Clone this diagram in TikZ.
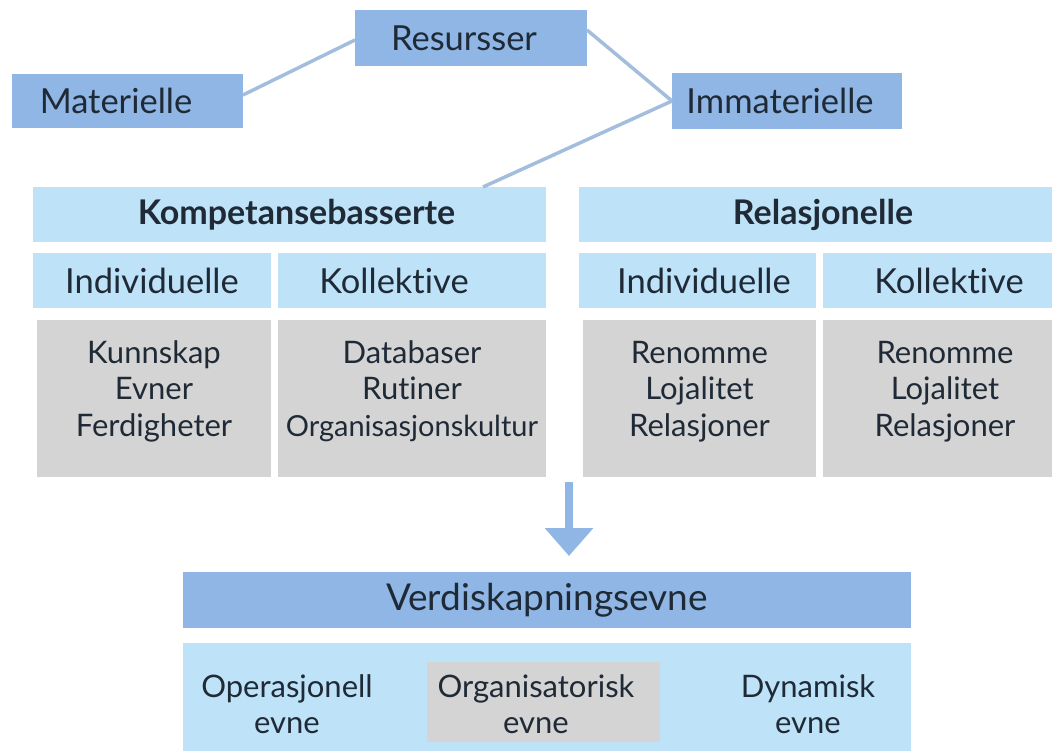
\documentclass[tikz,border=0pt]{standalone}
\usepackage{fontspec}
\setmainfont{Lato}[Ligatures={NoCommon}]
\usetikzlibrary{arrows.meta}
\definecolor{midblue}{HTML}{8FB6E4}
\definecolor{paleblue}{HTML}{BEE2F7}
\definecolor{cellgray}{HTML}{D4D4D4}
\definecolor{ink}{HTML}{1F2A36}
\definecolor{linkblue}{HTML}{A3BDDC}
\begin{document}
\begin{tikzpicture}[x=1pt,y=-1pt,
  cell/.style={rectangle, inner sep=0pt, outer sep=0pt, text=ink, align=center},
  topbox/.style={cell, fill=midblue, font=\fontsize{34.5}{40}\selectfont},
  head/.style={cell, fill=paleblue, font=\fontsize{34}{40}\selectfont\bfseries},
  sub/.style={cell, fill=paleblue, font=\fontsize{34.5}{40}\selectfont},
  content/.style={cell, fill=cellgray, font=\fontsize{31}{36.5}\selectfont},
  evnetext/.style={cell, font=\fontsize{31}{36}\selectfont},
  link/.style={draw=linkblue, line width=3.5pt}]
\useasboundingbox (0,0) rectangle (1052,751);

% resource type boxes
\node[topbox, minimum width=232pt, minimum height=56pt] (res) at (471,38) {Resursser\hspace*{14pt}};
\node[topbox, minimum width=231pt, minimum height=54pt] (mat) at (127.5,101) {Materielle\hspace*{23pt}};
\node[topbox, minimum width=230pt, minimum height=56pt] (imm) at (787,101) {Immaterielle\hspace*{14pt}};

% competence based resources
\node[head, minimum width=513pt, minimum height=55pt] (komp) at (289.5,214.5) {\hspace*{14pt}Kompetansebasserte};
\node[sub, minimum width=238pt, minimum height=55pt] (ind1) at (152,280.5) {Individuelle};
\node[sub, minimum width=268pt, minimum height=55pt] (kol1) at (412,280.5) {Kollektive\hspace*{36pt}};
\node[content, minimum width=234pt, minimum height=157pt] (g1) at (154,398.5)
  {Kunnskap\\Evner\\Ferdigheter\\[-16.5pt]\mbox{}};
\node[content, minimum width=268pt, minimum height=157pt] (g2) at (412,398.5)
  {Databaser\\Rutiner\\{\fontsize{29}{36.5}\selectfont Organisasjonskultur}\\[-16.5pt]\mbox{}};

% relational resources
\node[head, minimum width=473pt, minimum height=55pt] (rel) at (815.5,214.5) {\hspace*{15pt}Relasjonelle};
\node[sub, minimum width=237pt, minimum height=55pt] (ind2) at (697.5,280.5) {\hspace*{13pt}Individuelle};
\node[sub, minimum width=229pt, minimum height=55pt] (kol2) at (937.5,280.5) {\hspace*{23pt}Kollektive};
\node[content, minimum width=233pt, minimum height=157pt] (g3) at (699.5,398.5)
  {Renomme\\Lojalitet\\Relasjoner\\[-16.5pt]\mbox{}};
\node[content, minimum width=229pt, minimum height=157pt] (g4) at (937.5,398.5)
  {\hspace*{15pt}Renomme\\\hspace*{15pt}Lojalitet\\\hspace*{15pt}Relasjoner\\[-16.5pt]\mbox{}};

% value creation capability
\node[topbox, minimum width=728pt, minimum height=56pt, font=\fontsize{37}{42}\selectfont] (verd) at (547,600) {Verdiskapningsevne};
\node[cell, fill=paleblue, minimum width=728pt, minimum height=108pt] (evne) at (547,697) {};
\node[cell, fill=cellgray, minimum width=233pt, minimum height=80pt] (org) at (543.5,702) {};
\node[evnetext] (ope) at (287,704) {Operasjonell\\evne};
\node[evnetext] (orgt) at (536,704) {Organisatorisk\\evne};
\node[evnetext] (dyn) at (808,704) {Dynamisk\\evne};

% connectors
\coordinate (arrtop) at (569,482);
\coordinate (arrtip) at (569,556);
\draw[link] ([yshift=6pt]mat.east) -- ([yshift=-2pt]res.west);
\draw[link] ([yshift=8pt]res.east) -- (imm.west);
\draw[link] (imm.west) -- ([xshift=193.5pt]komp.north);
\draw[draw=midblue, line width=8pt, -{Triangle[length=28pt,width=47pt]}]
  (arrtop) -- (arrtip);
\end{tikzpicture}
\end{document}
